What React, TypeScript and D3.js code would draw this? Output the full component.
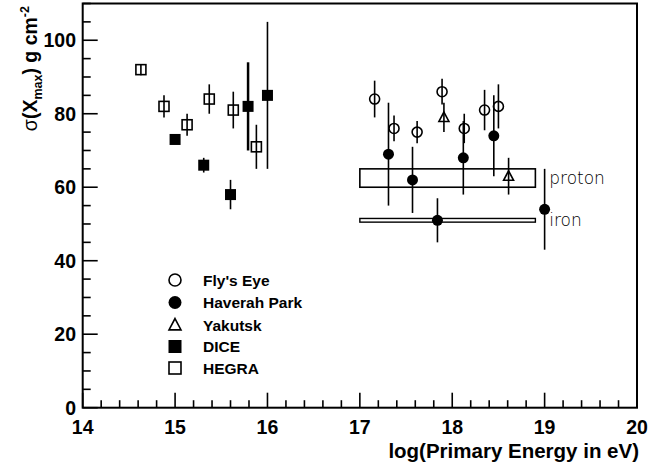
import React from 'react';
import * as d3 from 'd3';

// Fly's Eye (open circles)
const flysEyeE = [17.16, 17.37, 17.62, 17.89, 18.13, 18.35, 18.5];
const flysEyeV = [84, 76, 75, 86, 76, 81, 82];
const flysEyeErr = [5, 3.5, 3, 3.5, 4, 5.5, 6];
// Haverah Park (filled circles)
const haverahE = [17.31, 17.57, 17.84, 18.12, 18.45, 19.0];
const haverahV = [69, 62, 51, 68, 74, 54];
const haverahErr = [14, 9, 6, 10, 11, 11];
// Yakutsk (open triangles)
const yakutskE = [17.91, 18.61];
const yakutskV = [79, 63];
const yakutskErr = [4, 5];
// DICE (filled squares)
const diceE = [15.0, 15.31, 15.6, 15.79, 16.0];
const diceV = [73, 66, 58, 82, 85];
const diceErr = [1, 2, 4, 12, 20];
// HEGRA (open squares)
const hegraE = [14.63, 14.88, 15.13, 15.37, 15.63, 15.88];
const hegraV = [92, 82, 77, 84, 81, 71];
const hegraErr = [1.5, 3, 3, 4, 5, 6];

// Simulation bands
const bandE = [17.0, 18.9];
const protonBand = [60, 65];
const ironBand = [50.5, 51.5];

const xTicks = [14, 15, 16, 17, 18, 19, 20];
const yTicks = [0, 20, 40, 60, 80, 100];
const legendNames = ["Fly's Eye", 'Haverah Park', 'Yakutsk', 'DICE', 'HEGRA'];
const legendShapes = ['openCircle', 'filledCircle', 'triangle', 'filledSquare', 'openSquare'];

const FONT = '"Liberation Sans", Arial, Helvetica, sans-serif';

function Marker({ shape, cx, cy, s }: { shape: string; cx: number; cy: number; s: number }) {
  const sw = 1.6;
  if (shape === 'openCircle') return <circle cx={cx} cy={cy} r={s / 2} fill="none" stroke="#000" strokeWidth={sw} />;
  if (shape === 'filledCircle') return <circle cx={cx} cy={cy} r={s / 2 + 0.5} fill="#000" />;
  if (shape === 'filledSquare') return <rect x={cx - s / 2 - 0.5} y={cy - s / 2 - 0.5} width={s + 1} height={s + 1} fill="#000" />;
  if (shape === 'openSquare') return <rect x={cx - s / 2} y={cy - s / 2} width={s} height={s} fill="none" stroke="#000" strokeWidth={sw} />;
  const h = s * 0.9;
  const p = `M${cx},${cy - h * 0.6} L${cx + s / 2},${cy + h * 0.45} L${cx - s / 2},${cy + h * 0.45} Z`;
  return <path d={p} fill="none" stroke="#000" strokeWidth={sw} />;
}

export default function App() {
  const W = 649, H = 476;
  const x = d3.scaleLinear().domain([14, 20]).range([82.7, 637]);
  const y = d3.scaleLinear().domain([0, 110]).range([407.7, 3.5]);

  const minorX = d3.range(14, 20.001, 0.2).map((v) => +v.toFixed(1)).filter((v) => Math.abs(v - Math.round(v)) > 1e-6);
  const minorY = d3.range(0, 110.001, 5).filter((v) => v % 20 !== 0);

  const series = [
    { e: hegraE, v: hegraV, err: hegraErr, shape: 'openSquare', size: 10 },
    { e: diceE, v: diceV, err: diceErr, shape: 'filledSquare', size: 10 },
    { e: flysEyeE, v: flysEyeV, err: flysEyeErr, shape: 'openCircle', size: 10 },
    { e: haverahE, v: haverahV, err: haverahErr, shape: 'filledCircle', size: 10 },
    { e: yakutskE, v: yakutskV, err: yakutskErr, shape: 'triangle', size: 10 },
  ];

  const legendY = [280, 302.5, 325, 346.5, 368];

  return (
    <svg width={W} height={H} style={{ position: 'absolute', left: 0, top: 0, background: '#fff' }} fontFamily={FONT}>
      <rect x={0} y={0} width={W} height={H} fill="#fff" />
      {/* bands */}
      <rect x={x(bandE[0])} y={y(protonBand[1])} width={x(bandE[1]) - x(bandE[0])} height={y(protonBand[0]) - y(protonBand[1])} fill="none" stroke="#000" strokeWidth={1.6} />
      <rect x={x(bandE[0])} y={y(ironBand[1])} width={x(bandE[1]) - x(bandE[0])} height={y(ironBand[0]) - y(ironBand[1])} fill="#fff" stroke="#000" strokeWidth={1.4} />
      <text x={x(19.05)} y={y(62.5)} dy="0.35em" fontSize={17} fontFamily={'"DejaVu Sans", sans-serif'} fontWeight={300}>proton</text>
      <text x={x(19.05)} y={y(51)} dy="0.35em" fontSize={17} fontFamily={'"DejaVu Sans", sans-serif'} fontWeight={300}>iron</text>

      {/* data */}
      {series.map((s, si) => (
        <g key={si}>
          {s.e.map((e, i) => (
            <line key={'e' + i} x1={x(e)} x2={x(e)} y1={y(s.v[i] + s.err[i])} y2={y(s.v[i] - s.err[i])} stroke="#000" strokeWidth={s.shape === 'filledSquare' && s.err[i] === 12 ? 2.5 : 1.6} />
          ))}
          {s.e.map((e, i) => (
            <Marker key={'m' + i} shape={s.shape} cx={x(e)} cy={y(s.v[i])} s={s.size} />
          ))}
        </g>
      ))}

      {/* legend */}
      {legendNames.map((n, i) => (
        <g key={n}>
          <Marker shape={legendShapes[i]} cx={175} cy={legendY[i]} s={12} />
          <text x={203} y={legendY[i]} dy="0.36em" fontSize={15.5} fontWeight="bold">{n}</text>
        </g>
      ))}

      {/* frame */}
      <rect x={x(14)} y={y(110)} width={x(20) - x(14)} height={y(0) - y(110)} fill="none" stroke="#000" strokeWidth={2} />

      {/* x ticks */}
      {xTicks.map((t) => (
        <g key={'xt' + t}>
          <line x1={x(t)} x2={x(t)} y1={y(0)} y2={y(0) - 15} stroke="#000" strokeWidth={1.6} />
          <text x={x(t)} y={434} textAnchor="middle" fontSize={19.5} fontWeight="bold">{t}</text>
        </g>
      ))}
      {minorX.map((t) => (
        <line key={'xm' + t} x1={x(t)} x2={x(t)} y1={y(0)} y2={y(0) - 7.5} stroke="#000" strokeWidth={1.6} />
      ))}
      {/* y ticks */}
      {yTicks.map((t) => (
        <g key={'yt' + t}>
          <line x1={x(14)} x2={x(14) + 15} y1={y(t)} y2={y(t)} stroke="#000" strokeWidth={1.6} />
          <text x={76} y={y(t)} dy="0.36em" textAnchor="end" fontSize={19.5} fontWeight="bold">{t}</text>
        </g>
      ))}
      {minorY.map((t) => (
        <line key={'ym' + t} x1={x(14)} x2={x(14) + 8} y1={y(t)} y2={y(t)} stroke="#000" strokeWidth={1.6} />
      ))}

      {/* axis titles */}
      <text x={639} y={458} textAnchor="end" fontSize={20.5} fontWeight="bold">log(Primary Energy in eV)</text>
      <text transform="translate(37,6) rotate(-90)" textAnchor="end" fontSize={19.5} fontWeight="bold">
        <tspan fontWeight="normal">σ</tspan>(X<tspan fontSize={12.5} dy={5}>max</tspan><tspan dy={-5}>) g cm</tspan><tspan fontSize={12.5} dy={-8}>-2</tspan>
      </text>
    </svg>
  );
}
